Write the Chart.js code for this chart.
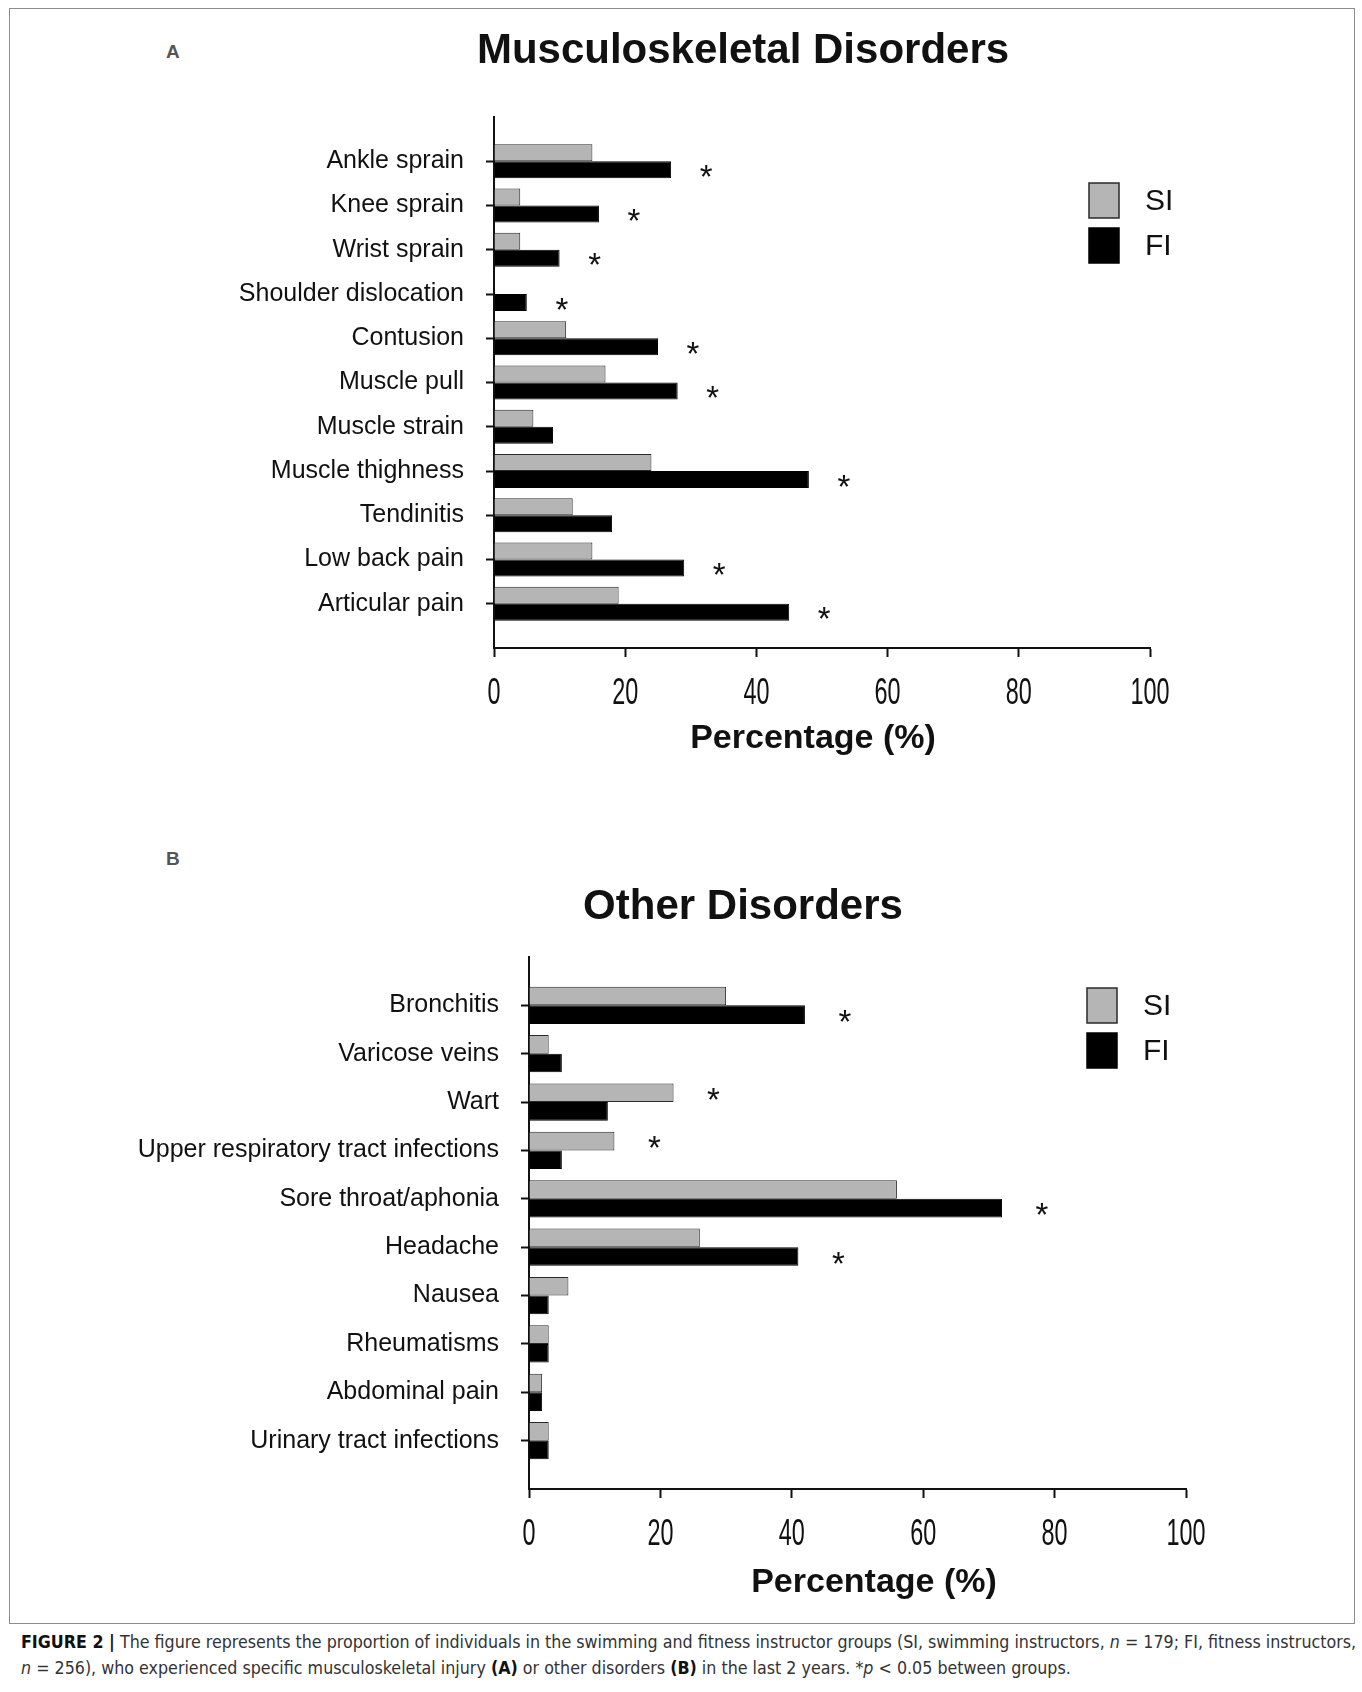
<!DOCTYPE html>
<html>
<head>
<meta charset="utf-8">
<script src="https://cdn.jsdelivr.net/npm/chart.js@4.4.1/dist/chart.umd.min.js"></script>
<style>
    body { margin: 0; background: #fff; width: 1362px; height: 1692px; position: relative; overflow: hidden; }
    #frame { position: absolute; left: 9px; top: 8px; width: 1344px; height: 1614px; border: 1px solid #8c8c8c; }
    .panel-label { position: absolute; left: 166px; font: bold 19px "Liberation Sans", Arial, sans-serif; color: #555; }
    #wrapA { position: absolute; left: 0; top: 0; width: 1362px; height: 800px; }
    #wrapB { position: absolute; left: 0; top: 800px; width: 1362px; height: 820px; }
    #caption { position: absolute; left: 21px; top: 1629px; color: #333; white-space: nowrap;
        font: 17.7px "DejaVu Sans Condensed", "Liberation Sans", sans-serif; line-height: 26px; }
    #caption b { color: #111; }
</style>
</head>
<body>
<div id="frame"></div>
<div class="panel-label" style="top:41px">A</div>
<div class="panel-label" style="top:848px">B</div>
<div id="wrapA"><canvas id="chartA" width="1362" height="800"></canvas></div>
<div id="wrapB"><canvas id="chartB" width="1362" height="820"></canvas></div>
<div id="caption"><b>FIGURE 2 |</b> The figure represents the proportion of individuals in the swimming and fitness instructor groups (SI, swimming instructors, <i>n</i> = 179; FI, fitness instructors,<br><i>n</i> = 256), who experienced specific musculoskeletal injury <b>(A)</b> or other disorders <b>(B)</b> in the last 2 years. *<i>p</i> &lt; 0.05 between groups.</div>

<script>
const seriesNames = ['SI', 'FI'];
const xTicks = [0, 20, 40, 60, 80, 100];
const xTitle = 'Percentage (%)';

const categoriesA = ['Ankle sprain', 'Knee sprain', 'Wrist sprain', 'Shoulder dislocation', 'Contusion',
    'Muscle pull', 'Muscle strain', 'Muscle thighness', 'Tendinitis', 'Low back pain', 'Articular pain'];
const siA = [15, 4, 4, 0, 11, 17, 6, 24, 12, 15, 19];
const fiA = [27, 16, 10, 5, 25, 28, 9, 48, 18, 29, 45];
const sigA = [true, true, true, true, true, true, false, true, false, true, true];

const categoriesB = ['Bronchitis', 'Varicose veins', 'Wart', 'Upper respiratory tract infections', 'Sore throat/aphonia',
    'Headache', 'Nausea', 'Rheumatisms', 'Abdominal pain', 'Urinary tract infections'];
const siB = [30, 3, 22, 13, 56, 26, 6, 3, 2, 3];
const fiB = [42, 5, 12, 5, 72, 41, 3, 3, 2, 3];
const sigB = [true, false, true, true, true, true, false, false, false, false];

const SANS = '"Liberation Sans", Arial, sans-serif';

// figure title, centred on the figure rather than on the plot
const figTitle = {
    id: 'figTitle',
    afterDraw(chart, args, opts) {
        const ctx = chart.ctx;
        ctx.save();
        ctx.font = 'bold 42px ' + SANS;
        ctx.fillStyle = '#111';
        ctx.textAlign = 'center';
        ctx.textBaseline = 'middle';
        ctx.fillText(opts.text, opts.x, opts.y);
        ctx.restore();
    }
};

// x tick labels are tall and narrow in the original, so squeeze them
const xAxisText = {
    id: 'xAxisText',
    afterDraw(chart, args, opts) {
        const ctx = chart.ctx;
        const xs = chart.scales.x;
        ctx.save();
        ctx.fillStyle = '#111';
        ctx.textAlign = 'center';
        ctx.textBaseline = 'middle';
        ctx.font = '36px ' + SANS;
        xs.ticks.forEach(function (t) {
            ctx.save();
            ctx.translate(xs.getPixelForValue(t.value), xs.top + opts.tickGap);
            ctx.scale(0.65, 1);
            ctx.fillText(String(t.value), 0, 0);
            ctx.restore();
        });
        ctx.font = 'bold 34px ' + SANS;
        ctx.fillText(opts.title, opts.titleX, opts.titleY);
        ctx.restore();
    }
};

// asterisk next to the longer bar of each significant pair
const starPlugin = {
    id: 'stars',
    afterDatasetsDraw(chart, args, opts) {
        const ctx = chart.ctx;
        ctx.save();
        ctx.font = '33px ' + SANS;
        ctx.fillStyle = '#111';
        ctx.textAlign = 'center';
        ctx.textBaseline = 'middle';
        opts.sig.forEach(function (s, i) {
            if (!s) return;
            const d0 = chart.data.datasets[0].data[i].x;
            const d1 = chart.data.datasets[1].data[i].x;
            const el = chart.getDatasetMeta(d1 >= d0 ? 1 : 0).data[i];
            ctx.fillText('*', el.x + opts.offset, el.y + 9);
        });
        ctx.restore();
    }
};

const boxLegend = {
    id: 'boxLegend',
    afterDraw(chart, args, opts) {
        const ctx = chart.ctx;
        ctx.save();
        chart.data.datasets.forEach(function (ds, i) {
            const y = opts.y + i * 45;
            ctx.fillStyle = ds.backgroundColor;
            ctx.fillRect(opts.x, y, 30, 35);
            ctx.strokeStyle = ds.borderColor;
            ctx.lineWidth = 1.5;
            ctx.strokeRect(opts.x, y, 30, 35);
            ctx.fillStyle = '#111';
            ctx.font = '30px ' + SANS;
            ctx.textBaseline = 'middle';
            ctx.fillText(ds.label, opts.x + 56, y + 19);
        });
        ctx.restore();
    }
};

function makeChart(id, o) {
    const n = o.categories.length;
    const toPoints = vals => vals.map((v, i) => ({x: v, y: i + 1}));
    return new Chart(document.getElementById(id), {
        type: 'bar',
        data: {
            datasets: [{
                label: seriesNames[0],
                data: toPoints(o.si),
                backgroundColor: '#b5b5b5',
                borderColor: '#2a2a2a',
                borderWidth: 1,
                borderSkipped: 'start'
            }, {
                label: seriesNames[1],
                data: toPoints(o.fi),
                backgroundColor: '#000',
                borderColor: '#000',
                borderWidth: 1,
                borderSkipped: 'start'
            }]
        },
        options: {
            indexAxis: 'y',
            responsive: false,
            animation: false,
            devicePixelRatio: 1,
            categoryPercentage: 0.77,
            barPercentage: 1,
            layout: {padding: o.padding},
            plugins: {
                legend: {display: false},
                tooltip: {enabled: false},
                title: {display: false},
                figTitle: o.title,
                xAxisText: o.xText,
                stars: {sig: o.sig, offset: o.starOffset},
                boxLegend: o.legend
            },
            scales: {
                x: {
                    type: 'linear',
                    min: xTicks[0],
                    max: xTicks[xTicks.length - 1],
                    afterBuildTicks: s => { s.ticks = xTicks.map(v => ({value: v})); },
                    afterFit: s => { s.height = o.xHeight; },
                    grid: {drawOnChartArea: false, tickLength: 9, color: '#111', tickWidth: 2},
                    border: {color: '#111', width: 2},
                    ticks: {display: false}
                },
                y: {
                    type: 'linear',
                    reverse: true,
                    offset: false,
                    min: 0,
                    max: n + 1,
                    afterBuildTicks: s => { s.ticks = o.categories.map((c, i) => ({value: i + 1})); },
                    afterFit: s => { s.width = o.yWidth; },
                    grid: {drawOnChartArea: false, offset: false, tickLength: 8, color: '#111', tickWidth: 2},
                    border: {color: '#111', width: 2},
                    ticks: {
                        color: '#111',
                        padding: 22,
                        autoSkip: false,
                        font: {family: SANS, size: 25},
                        callback: v => o.categories[v - 1] || ''
                    }
                }
            }
        },
        plugins: [figTitle, xAxisText, starPlugin, boxLegend]
    });
}

makeChart('chartA', {
    categories: categoriesA, si: siA, fi: fiA, sig: sigA,
    title: {text: 'Musculoskeletal Disorders', x: 743, y: 51},
    padding: {left: 20, right: 212, top: 117, bottom: 0},
    yWidth: 474, xHeight: 152,
    xText: {tickGap: 46, title: xTitle, titleX: 813, titleY: 739},
    starOffset: 35,
    legend: {x: 1089, y: 183}
});

makeChart('chartB', {
    categories: categoriesB, si: siB, fi: fiB, sig: sigB,
    title: {text: 'Other Disorders', x: 743, y: 107},
    padding: {left: 20, right: 176, top: 157, bottom: 0},
    yWidth: 509, xHeight: 131,
    xText: {tickGap: 46, title: xTitle, titleX: 874, titleY: 783},
    starOffset: 40,
    legend: {x: 1087, y: 188}
});
</script>
</body>
</html>
